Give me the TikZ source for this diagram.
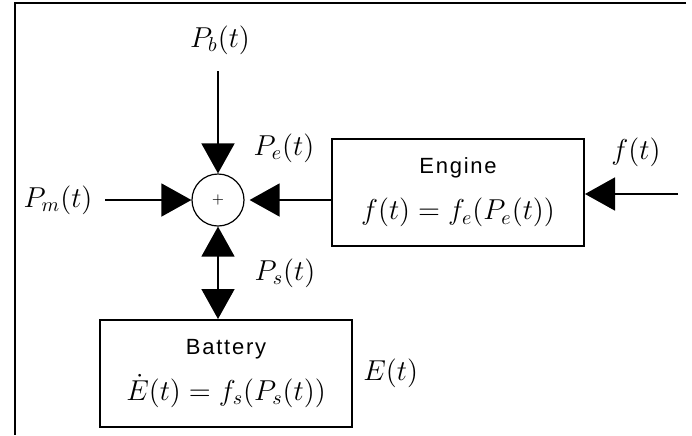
\documentclass[tikz,border=0pt]{standalone}
\usepackage{amsmath}
\usepackage{fontspec}
\setsansfont{Liberation Sans}
\newfontfamily\blockfont[LetterSpace=8]{Liberation Sans}
\usetikzlibrary{
  arrows.meta,
  positioning,
  calc
}
\tikzset{
  blockbox/.style={
    draw,
    line width=1pt,
    minimum width=126pt,
    minimum height=53.5pt,
    align=center,
    inner sep=0pt,
    font=\fontsize{14}{16}\selectfont
  },
  sumnode/.style={draw,circle,line width=0.6pt,minimum size=26pt,inner sep=0pt},
  siglabel/.style={font=\fontsize{14}{16}\selectfont,inner sep=1pt},
  sigarrow/.style={-{Triangle[length=15pt,width=16.5pt]},line width=0.8pt},
  bothsig/.style={{Triangle[length=15pt,width=16.5pt]}-{Triangle[length=15pt,width=16.5pt]},line width=0.8pt}
}

\begin{document}
\begin{tikzpicture}[x=0.5pt,y=-0.5pt]
  \useasboundingbox (0,0) rectangle (692,435);
  % frame
  \draw[line width=1pt] (686,3) -- (14.5,3) -- (14.5,435);

  \node[sumnode] (sum) at (218,200) {\scriptsize$+$};
  \node[blockbox] (engine) at (458,192.5) {{\blockfont\fontsize{11}{13}\selectfont Engine}\\[7pt]$f(t)=f_e(P_e(t))$};
  \node[blockbox] (battery) at (226,373.5) {{\blockfont\fontsize{11}{13}\selectfont Battery}\\[7pt]$\dot{E}(t)=f_s(P_s(t))$};

  \coordinate (pbin) at (218,71);
  \coordinate (pmin) at (105,200);
  \coordinate (fin) at (678,194);

  \node[siglabel] (pblabel) at (220,40) {$P_b(t)$};
  \node[siglabel] (pmlabel) at (58,200) {$P_m(t)$};
  \node[siglabel] (pelabel) at (284,148) {$P_e(t)$};
  \node[siglabel] (flabel) at (636,152) {$f(t)$};
  \node[siglabel] (pslabel) at (285,273) {$P_s(t)$};
  \node[siglabel, right=4pt of battery] (elabel) {$E(t)$};

  \draw[sigarrow] (pbin) -- (sum);
  \draw[sigarrow] (pmin) -- (sum);
  \draw[sigarrow, shorten >=2.5pt] (engine.west |- sum) -- (sum);
  \draw[sigarrow] (fin) -- (fin -| engine.east);
  \draw[bothsig] (sum) -- (sum |- battery.north);
\end{tikzpicture}
\end{document}
